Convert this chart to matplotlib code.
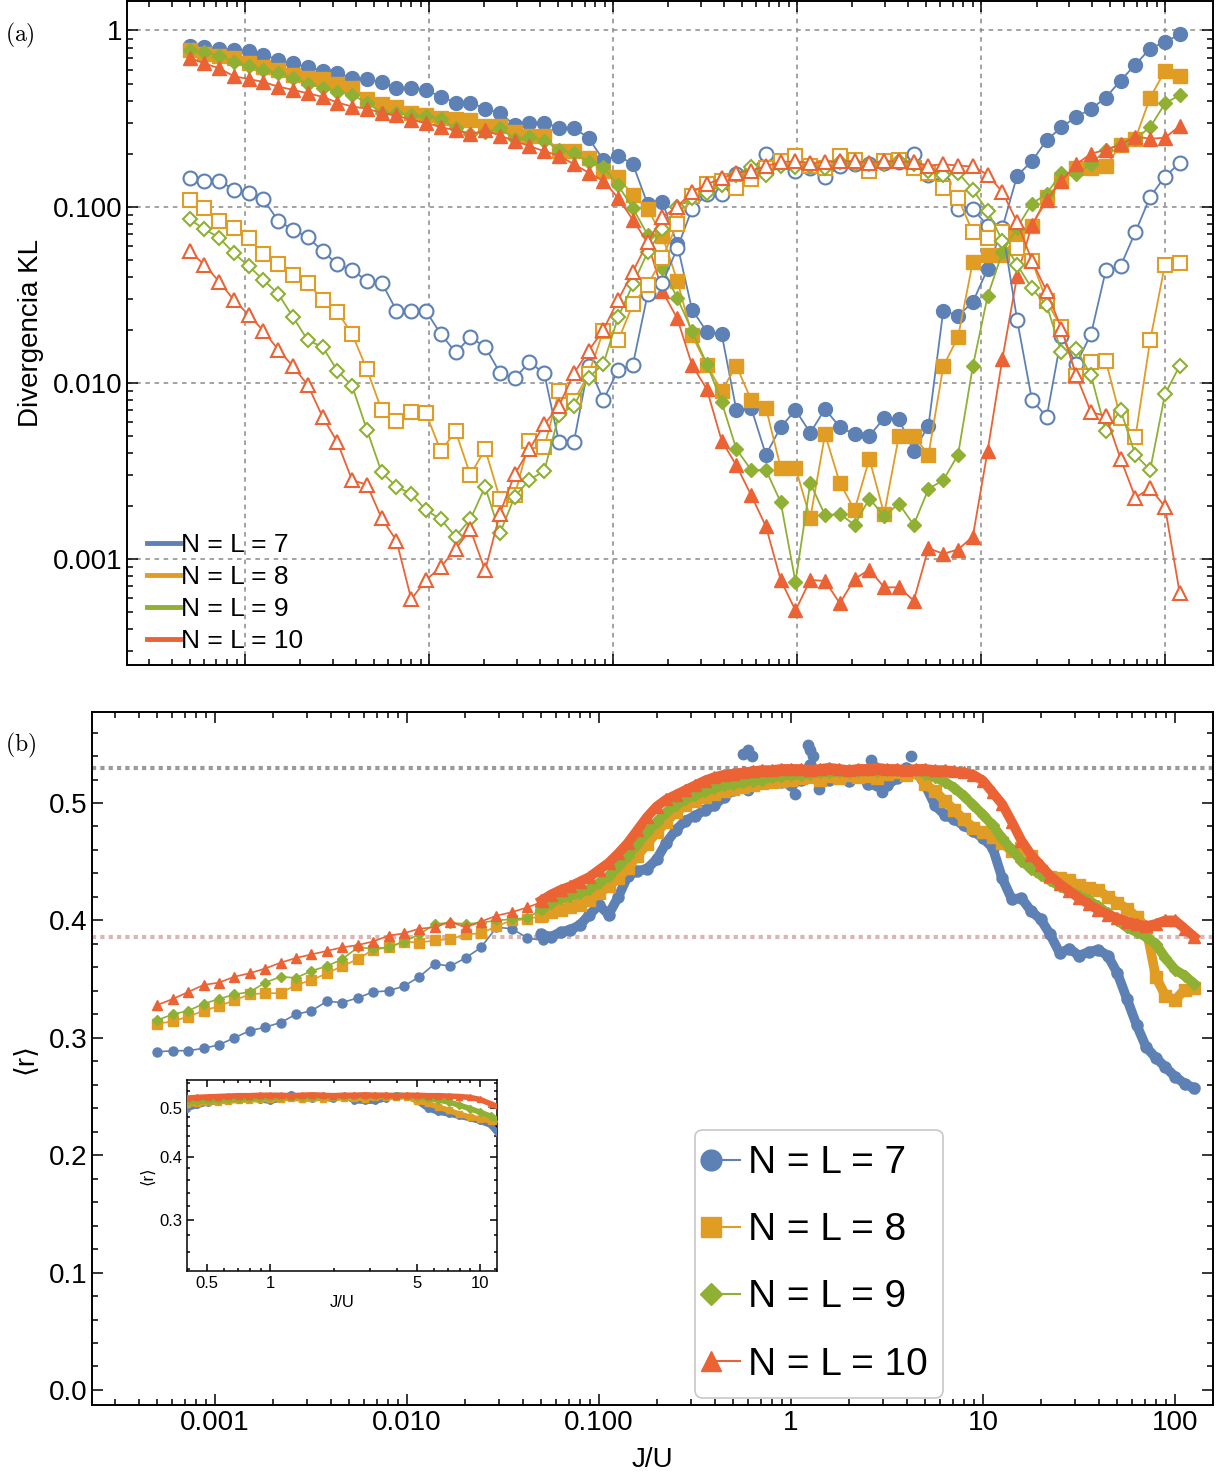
import numpy as np
import matplotlib
matplotlib.use("Agg")
import matplotlib.pyplot as plt
from matplotlib.lines import Line2D
from matplotlib.legend_handler import HandlerLine2D
from matplotlib.ticker import LogLocator, NullFormatter, MultipleLocator, FixedLocator

plt.rcParams['font.family'] = ['Liberation Sans', 'DejaVu Sans']
plt.rcParams['mathtext.fontset'] = 'cm'

# colores (paleta Mathematica)
BLUE = "#5e81b5"
ORANGE = "#e19c24"
GREEN = "#8fb032"
RED = "#eb6235"

labels = ["N = L = 7", "N = L = 8", "N = L = 9", "N = L = 10"]

# ---------------- (a) divergencia KL ----------------
j_kl = np.geomspace(5e-4, 120, 68)

kl7_full = [0.82, 0.81, 0.79, 0.77, 0.76, 0.73, 0.68, 0.65, 0.62, 0.59, 0.57, 0.54, 0.53, 0.51, 0.47, 0.47,
            0.46, 0.42, 0.39, 0.39, 0.36, 0.34, 0.29, 0.30, 0.30, 0.28, 0.28, 0.245, 0.184, 0.195, 0.174, 0.103,
            0.106, 0.061, 0.026, 0.0195, 0.019, 0.0070, 0.0072, 0.0039, 0.0056, 0.0070, 0.0052, 0.0071, 0.0056,
            0.0051, 0.0050, 0.0063, 0.0062, 0.0041, 0.0057, 0.0257, 0.024, 0.0287, 0.0443, 0.0758, 0.15, 0.181,
            0.239, 0.282, 0.324, 0.358, 0.416, 0.52, 0.64, 0.79, 0.86, 0.95]
kl7_open = [0.145, 0.140, 0.140, 0.125, 0.119, 0.110, 0.083, 0.074, 0.067, 0.056, 0.047, 0.0435, 0.038, 0.037,
            0.0257, 0.0257, 0.0255, 0.0189, 0.0149, 0.0181, 0.016, 0.0114, 0.0106, 0.0131, 0.0113, 0.0046, 0.0046,
            0.0125, 0.0080, 0.0118, 0.0127, 0.032, 0.037, 0.058, 0.097, 0.118, 0.118, 0.153, 0.16, 0.198, 0.179,
            0.16, 0.165, 0.148, 0.169, 0.174, 0.174, 0.176, 0.179, 0.2, 0.152, 0.136, 0.097, 0.097, 0.078, 0.076,
            0.0227, 0.0080, 0.0064, 0.0184, 0.0128, 0.0189, 0.0435, 0.046, 0.0717, 0.1136, 0.148, 0.177]
kl8_full = [0.77, 0.74, 0.72, 0.70, 0.65, 0.62, 0.60, 0.56, 0.54, 0.53, 0.50, 0.47, 0.41, 0.38, 0.37, 0.34,
            0.33, 0.32, 0.315, 0.31, 0.287, 0.287, 0.264, 0.253, 0.253, 0.206, 0.206, 0.189, 0.16, 0.147, 0.116,
            0.097, 0.068, 0.038, 0.0186, 0.0126, 0.0090, 0.0125, 0.0080, 0.0072, 0.0033, 0.0033, 0.0017, 0.0051,
            0.0027, 0.0019, 0.0037, 0.0018, 0.0050, 0.0050, 0.0039, 0.0124, 0.0182, 0.0486, 0.0534, 0.053, 0.068,
            0.078, 0.1136, 0.139, 0.165, 0.165, 0.17, 0.224, 0.243, 0.416, 0.59, 0.55]
kl8_open = [0.109, 0.098, 0.083, 0.076, 0.066, 0.054, 0.047, 0.041, 0.037, 0.0295, 0.0253, 0.0189, 0.0119,
            0.0070, 0.0061, 0.0068, 0.0067, 0.0041, 0.0053, 0.0030, 0.0042, 0.0022, 0.0023, 0.0047, 0.0043,
            0.0090, 0.0079, 0.0112, 0.0197, 0.0174, 0.0279, 0.0358, 0.0514, 0.080, 0.115, 0.134, 0.14, 0.128,
            0.143, 0.165, 0.181, 0.195, 0.171, 0.165, 0.195, 0.184, 0.16, 0.181, 0.184, 0.165, 0.156, 0.127,
            0.112, 0.0717, 0.066, 0.072, 0.0584, 0.0494, 0.029, 0.0206, 0.0109, 0.0132, 0.0133, 0.0063, 0.0049,
            0.0174, 0.0468, 0.048]
kl9_full = [0.77, 0.75, 0.72, 0.66, 0.63, 0.60, 0.57, 0.54, 0.50, 0.47, 0.45, 0.43, 0.39, 0.34, 0.34, 0.33,
            0.326, 0.315, 0.279, 0.257, 0.264, 0.279, 0.243, 0.25, 0.236, 0.211, 0.202, 0.179, 0.168, 0.132,
            0.098, 0.069, 0.0447, 0.0303, 0.0197, 0.0128, 0.0078, 0.0042, 0.0032, 0.0032, 0.0021, 0.00074,
            0.0027, 0.00177, 0.0018, 0.00156, 0.0022, 0.00175, 0.00206, 0.00156, 0.0025, 0.0028, 0.0039, 0.0124,
            0.031, 0.055, 0.076, 0.104, 0.118, 0.156, 0.154, 0.174, 0.211, 0.224, 0.243, 0.282, 0.385, 0.43]
kl9_open = [0.0847, 0.0745, 0.0667, 0.0543, 0.046, 0.0383, 0.032, 0.0236, 0.0174, 0.016, 0.0117, 0.0096,
            0.0054, 0.0031, 0.00257, 0.00234, 0.00189, 0.00168, 0.00134, 0.00168, 0.00257, 0.0014, 0.00226,
            0.00282, 0.00315, 0.0066, 0.0074, 0.0107, 0.0128, 0.0236, 0.0362, 0.0552, 0.0745, 0.1, 0.112, 0.12,
            0.132, 0.152, 0.168, 0.152, 0.17, 0.168, 0.17, 0.165, 0.179, 0.174, 0.174, 0.174, 0.181, 0.174, 0.16,
            0.152, 0.156, 0.125, 0.0946, 0.064, 0.0468, 0.0343, 0.0275, 0.0149, 0.0156, 0.011, 0.0053, 0.0070,
            0.0039, 0.0032, 0.0086, 0.0125]
kl10_full = [0.70, 0.65, 0.61, 0.55, 0.53, 0.51, 0.48, 0.46, 0.44, 0.42, 0.39, 0.37, 0.36, 0.34, 0.33, 0.31,
             0.30, 0.282, 0.272, 0.257, 0.272, 0.253, 0.236, 0.221, 0.206, 0.195, 0.174, 0.156, 0.14, 0.112,
             0.084, 0.0624, 0.033, 0.0232, 0.0126, 0.0092, 0.0047, 0.0034, 0.0023, 0.00153, 0.00076, 0.00051,
             0.00076, 0.00075, 0.00056, 0.00077, 0.00087, 0.00069, 0.00069, 0.00058, 0.00115, 0.00107, 0.00113,
             0.00134, 0.0041, 0.0137, 0.0405, 0.0788, 0.1087, 0.14, 0.174, 0.2, 0.21, 0.226, 0.25, 0.243, 0.246,
             0.287]
kl10_open = [0.0558, 0.0468, 0.0375, 0.0295, 0.0243, 0.0197, 0.0154, 0.0124, 0.0097, 0.0064, 0.0046, 0.0028,
             0.00264, 0.0017, 0.00127, 0.00059, 0.00076, 0.0009, 0.00114, 0.00147, 0.00086, 0.00181, 0.00303,
             0.0042, 0.0058, 0.0074, 0.0113, 0.0152, 0.02, 0.0295, 0.0428, 0.063, 0.087, 0.1, 0.121, 0.134,
             0.145, 0.156, 0.16, 0.17, 0.179, 0.181, 0.177, 0.179, 0.181, 0.181, 0.177, 0.181, 0.181, 0.179,
             0.171, 0.174, 0.171, 0.169, 0.152, 0.121, 0.0815, 0.0494, 0.033, 0.0203, 0.011, 0.0068, 0.0065,
             0.0037, 0.00223, 0.00252, 0.00198, 0.00064]

# ---------------- (b) <r> ----------------
j_r_sparse = j_kl[:26]
r7_sparse = [0.288, 0.289, 0.289, 0.291, 0.294, 0.300, 0.306, 0.309, 0.313, 0.320, 0.323, 0.331, 0.330,
             0.334, 0.339, 0.340, 0.344, 0.352, 0.363, 0.361, 0.368, 0.377, 0.394, 0.393, 0.385, 0.383]
r8_sparse = [0.312, 0.314, 0.318, 0.323, 0.327, 0.332, 0.337, 0.338, 0.338, 0.345, 0.349, 0.355, 0.361,
             0.367, 0.375, 0.377, 0.382, 0.381, 0.383, 0.384, 0.388, 0.389, 0.395, 0.400, 0.401, 0.404]
r9_sparse = [0.315, 0.320, 0.323, 0.329, 0.333, 0.337, 0.339, 0.347, 0.352, 0.351, 0.357, 0.361, 0.367,
             0.377, 0.376, 0.377, 0.382, 0.388, 0.397, 0.398, 0.397, 0.398, 0.400, 0.401, 0.402, 0.410]
r10_sparse = [0.328, 0.333, 0.339, 0.345, 0.347, 0.352, 0.355, 0.359, 0.364, 0.368, 0.371, 0.374, 0.377,
              0.379, 0.382, 0.387, 0.389, 0.393, 0.394, 0.399, 0.394, 0.399, 0.404, 0.407, 0.411, 0.416]

j_r_dense = np.geomspace(10 ** -1.3, 10 ** 2.1, 69)
r7_dense = [0.388, 0.386, 0.390, 0.392, 0.396, 0.405, 0.413, 0.405, 0.420, 0.438, 0.442, 0.444, 0.452, 0.466,
            0.477, 0.485, 0.489, 0.494, 0.498, 0.505, 0.511, 0.514, 0.518, 0.525, 0.522, 0.518, 0.515,
            0.520, 0.532, 0.521, 0.520, 0.523, 0.519, 0.528, 0.516, 0.515,
            0.515, 0.521, 0.530, 0.527, 0.515, 0.498, 0.490, 0.486, 0.481, 0.476,
            0.470, 0.462, 0.436, 0.418, 0.419, 0.408, 0.401, 0.388, 0.372, 0.376, 0.370, 0.373, 0.375, 0.370,
            0.355, 0.333, 0.311, 0.292, 0.283, 0.275, 0.267, 0.261, 0.257]
r8_dense = [0.404, 0.407, 0.409, 0.411, 0.413, 0.417, 0.423, 0.429, 0.436, 0.445, 0.455, 0.465, 0.475, 0.484,
            0.492, 0.498, 0.502, 0.505, 0.508, 0.510, 0.512, 0.514, 0.515, 0.517, 0.518, 0.519, 0.520,
            0.521, 0.522, 0.520, 0.523, 0.521, 0.524, 0.522, 0.523, 0.521,
            0.525, 0.526, 0.524, 0.526, 0.516, 0.510, 0.502, 0.494, 0.486, 0.479,
            0.475, 0.471, 0.466, 0.459, 0.462, 0.455, 0.442, 0.437, 0.436, 0.434, 0.430, 0.428, 0.426, 0.420,
            0.415, 0.410, 0.403, 0.394, 0.352, 0.336, 0.332, 0.341, 0.342]
r9_dense = [0.410, 0.415, 0.419, 0.421, 0.423, 0.427, 0.432, 0.438, 0.446, 0.455, 0.465, 0.475, 0.484, 0.492,
            0.498, 0.503, 0.507, 0.510, 0.513, 0.515, 0.516, 0.518, 0.519, 0.520, 0.522, 0.523, 0.524,
            0.524, 0.525, 0.526, 0.526, 0.527, 0.526, 0.527, 0.528, 0.527, 0.528, 0.528, 0.528, 0.528,
            0.525, 0.522, 0.518, 0.513, 0.506, 0.498,
            0.490, 0.481, 0.470, 0.460, 0.451, 0.444, 0.439, 0.434, 0.429, 0.425, 0.421, 0.417, 0.412, 0.406,
            0.400, 0.394, 0.390, 0.386, 0.380, 0.368, 0.358, 0.353, 0.346]
r10_dense = [0.417, 0.422, 0.426, 0.429, 0.433, 0.437, 0.443, 0.449, 0.457, 0.466, 0.477, 0.488, 0.497, 0.503,
             0.507, 0.511, 0.515, 0.519, 0.522, 0.524, 0.525, 0.526, 0.527, 0.528, 0.528, 0.529, 0.529,
             0.529, 0.528, 0.529, 0.530, 0.529, 0.528, 0.529, 0.529, 0.530, 0.529, 0.529, 0.528, 0.529,
             0.529, 0.528, 0.528, 0.527, 0.526, 0.524,
             0.519, 0.509, 0.499, 0.484, 0.468, 0.456, 0.447, 0.438, 0.431, 0.425, 0.419, 0.414, 0.409, 0.405,
             0.402, 0.399, 0.397, 0.395, 0.397, 0.400, 0.400, 0.393, 0.386]

# puntos sueltos de N = L = 7 que se salen de la banda
j_r7_out = [0.56, 0.60, 0.63, 1.22, 1.26, 1.30, 2.6, 4.2, 0.60, 1.05, 1.4, 2.97]
r7_out = [0.542, 0.545, 0.540, 0.549, 0.545, 0.540, 0.537, 0.540, 0.511, 0.508, 0.512, 0.509]

r_poisson = 0.386
r_goe = 0.53

series = [
    (BLUE, "o", kl7_full, kl7_open, r7_sparse, r7_dense),
    (ORANGE, "s", kl8_full, kl8_open, r8_sparse, r8_dense),
    (GREEN, "D", kl9_full, kl9_open, r9_sparse, r9_dense),
    (RED, "^", kl10_full, kl10_open, r10_sparse, r10_dense),
]
msize = {"o": 10, "s": 9.5, "D": 7.5, "^": 10}


class HandlerMarkerLeft(HandlerLine2D):
    # marcador al principio de la linea, como en Mathematica
    def create_artists(self, *args, **kwargs):
        arts = super().create_artists(*args, **kwargs)
        arts[0].set_markevery([0])
        return arts


def style_ticks(ax, size):
    ax.tick_params(which="both", direction="in", top=True, right=True, labelsize=size, width=1.1)
    ax.tick_params(which="major", length=8)
    ax.tick_params(which="minor", length=4)
    for s in ax.spines.values():
        s.set_linewidth(1.4)


fig = plt.figure(figsize=(12.2, 14.75), dpi=100)

# ---- panel (a)
ax_a = fig.add_axes([127 / 1220, 1 - 665 / 1475, 1086 / 1220, 664 / 1475])
ax_a.set_xscale("log")
ax_a.set_yscale("log")
for col, mk, full, opn, _, _ in series:
    ax_a.plot(j_kl, full, color=col, marker=mk, ms=msize[mk], lw=1.3, mec=col, mfc=col, zorder=3)
for col, mk, full, opn, _, _ in series:
    ax_a.plot(j_kl, opn, color=col, marker=mk, ms=msize[mk], lw=1.3, mec=col, mfc="white", mew=1.5, zorder=3)
ax_a.set_xlim(2.285e-4, 182)
ax_a.set_ylim(2.5e-4, 1.47)
ax_a.set_yticks([1e-3, 1e-2, 1e-1, 1])
ax_a.set_yticklabels(["0.001", "0.010", "0.100", "1"])
ax_a.xaxis.set_major_locator(FixedLocator([1e-3, 1e-2, 1e-1, 1, 10, 100]))
ax_a.xaxis.set_minor_locator(LogLocator(base=10, subs=np.arange(2, 10)))
ax_a.yaxis.set_minor_locator(LogLocator(base=10, subs=np.arange(2, 10)))
ax_a.xaxis.set_major_formatter(NullFormatter())
ax_a.xaxis.set_minor_formatter(NullFormatter())
ax_a.yaxis.set_minor_formatter(NullFormatter())
ax_a.grid(which="major", ls=(0, (3, 3)), color="#8a8a8a", lw=1.1, zorder=0)
style_ticks(ax_a, 20)
ax_a.set_ylabel("Divergencia KL", fontsize=20, labelpad=6)
handles_a = [Line2D([], [], color=c, lw=3.5) for c, *_ in series]
ax_a.legend(handles_a, labels, loc="lower left", bbox_to_anchor=(0.0075, 0.0), frameon=False,
            fontsize=19, handlelength=1.25, handletextpad=0.05, labelspacing=0.3, borderaxespad=0.05)
fig.text(5 / 1220, 1 - 35 / 1475, r"$\mathrm{(a)}$", fontsize=17, va="center")

# ---- panel (b)
ax_b = fig.add_axes([92 / 1220, 1 - 1405 / 1475, 1121 / 1220, 693 / 1475])
ax_b.set_xscale("log")
ax_b.axhline(r_goe, color="#9a9a9a", ls=(0, (1, 1)), lw=3, zorder=1)
ax_b.axhline(r_poisson, color="#dbb4b4", ls=(0, (1, 1)), lw=3, zorder=1)
ax_b.plot(j_r7_out, r7_out, ls="none", marker="o", ms=7.5, color=BLUE, zorder=2)
for col, mk, _, _, sp, dn in series:
    ax_b.plot(j_r_sparse, sp, color=col, marker=mk, ms=6.5 if mk != "D" else 5.5, lw=1.2, zorder=3)
    ax_b.plot(j_r_dense, dn, color=col, marker=mk, ms=8 if mk != "D" else 6.5, lw=7, zorder=3,
              solid_joinstyle="round")
ax_b.set_xlim(2.285e-4, 157.8)
ax_b.set_ylim(-0.0128, 0.5775)
ax_b.xaxis.set_major_locator(FixedLocator([1e-3, 1e-2, 1e-1, 1, 10, 100]))
ax_b.set_xticklabels(["0.001", "0.010", "0.100", "1", "10", "100"])
ax_b.xaxis.set_minor_locator(LogLocator(base=10, subs=np.arange(2, 10)))
ax_b.xaxis.set_minor_formatter(NullFormatter())
ax_b.set_yticks([0.0, 0.1, 0.2, 0.3, 0.4, 0.5])
ax_b.set_yticklabels(["0.0", "0.1", "0.2", "0.3", "0.4", "0.5"])
ax_b.yaxis.set_minor_locator(MultipleLocator(0.02))
style_ticks(ax_b, 20)
ax_b.set_xlabel("J/U", fontsize=20, labelpad=8)
ax_b.set_ylabel("⟨r⟩", fontsize=20, labelpad=8)
handles_b = [Line2D([], [], color=c, marker=m, ms=msize[m] * 1.5, lw=1.5) for c, m, *_ in series]
leg = ax_b.legend(handles_b, labels, loc="lower left", bbox_to_anchor=(0.538, 0.01), fontsize=28,
                  handlelength=0.75, handletextpad=0.2, labelspacing=0.8, borderpad=0.4,
                  borderaxespad=0.0, fancybox=True, edgecolor="#c8c8c8", framealpha=1,
                  handler_map={Line2D: HandlerMarkerLeft(numpoints=1)})
leg.get_frame().set_linewidth(1.2)
fig.text(5 / 1220, 1 - 745 / 1475, r"$\mathrm{(b)}$", fontsize=17, va="center")

# ---- recuadro
ax_in = fig.add_axes([187 / 1220, 1 - 1271 / 1475, 310 / 1220, 191 / 1475])
ax_in.set_xscale("log")
ax_in.set_yscale("log")
for col, mk, _, _, sp, dn in series:
    ax_in.plot(j_r_dense, dn, color=col, marker=mk, ms=4, lw=4, zorder=3)
ax_in.set_xlim(0.40, 12.05)
ax_in.set_ylim(0.238, 0.567)
ax_in.xaxis.set_major_locator(FixedLocator([0.5, 1, 5, 10]))
ax_in.set_xticklabels(["0.5", "1", "5", "10"])
ax_in.xaxis.set_minor_locator(FixedLocator([0.6, 0.7, 0.8, 0.9, 2, 3, 4, 6, 7, 8, 9]))
ax_in.xaxis.set_minor_formatter(NullFormatter())
ax_in.yaxis.set_major_locator(FixedLocator([0.3, 0.4, 0.5]))
ax_in.set_yticklabels(["0.3", "0.4", "0.5"])
ax_in.yaxis.set_minor_locator(FixedLocator(np.arange(0.24, 0.57, 0.02)))
ax_in.yaxis.set_minor_formatter(NullFormatter())
style_ticks(ax_in, 12)
ax_in.tick_params(which="major", length=5)
ax_in.tick_params(which="minor", length=2.5)
for s in ax_in.spines.values():
    s.set_linewidth(1.1)
ax_in.set_xlabel("J/U", fontsize=12, labelpad=3)
ax_in.set_ylabel("⟨r⟩", fontsize=12, labelpad=3)

fig.savefig("out.png", dpi=100)
